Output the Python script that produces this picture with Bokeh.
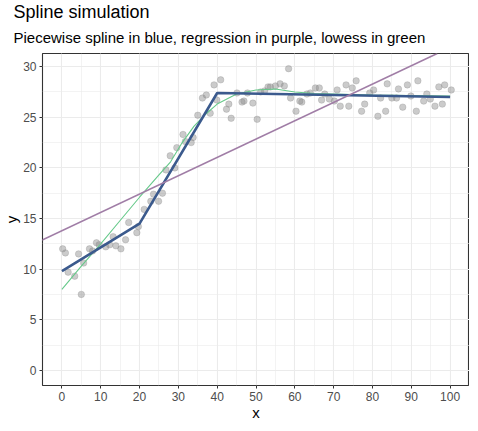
import numpy as np
from bokeh.plotting import figure
from bokeh.models import Range1d, Slope, Title, SingleIntervalTicker
from bokeh.embed import file_html
from bokeh.resources import INLINE

# ---- data ----
pts_x = [0.2, 0.9, 1.6, 3.3, 4.3, 5.0, 5.6, 7.1, 7.9, 8.9, 9.6, 11.3, 12.3, 13.2, 13.9,
         15.2, 16.4, 17.2, 19.3, 19.7, 21.2, 22.9, 23.6, 24.9, 25.9, 26.8, 27.9, 29.1,
         29.6, 31.2, 31.8, 33.3, 33.8, 35.0, 36.2, 37.2, 38.2, 39.2, 39.9, 40.9, 42.4,
         43.0, 43.6, 45.1, 46.4, 46.9, 47.8, 49.2, 50.3, 51.2, 52.2, 53.1, 53.7, 55.0,
         56.2, 57.3, 58.4, 58.9, 60.3, 61.3, 61.8, 63.1, 64.0, 65.3, 66.3, 66.9, 67.7,
         68.9, 70.2, 70.9, 71.7, 73.2, 73.9, 74.8, 75.8, 77.2, 78.0, 79.3, 80.3, 81.4,
         82.1, 83.4, 83.8, 85.0, 86.2, 86.7, 87.8, 89.0, 89.9, 91.3, 91.7, 93.2, 94.0,
         94.9, 96.1, 97.1, 98.0, 98.6, 100.3]
pts_y = [12.0, 11.6, 9.7, 9.3, 11.5, 7.5, 10.6, 12.0, 11.8, 12.6, 12.4, 12.2, 12.4, 13.2, 12.3,
         12.0, 12.9, 14.6, 13.6, 14.2, 15.9, 16.7, 17.4, 16.7, 17.5, 19.8, 21.2, 20.0,
         22.0, 23.3, 22.6, 22.5, 23.0, 25.2, 26.9, 27.2, 25.4, 28.2, 26.7, 28.7, 25.8,
         26.3, 24.9, 27.4, 26.5, 26.6, 27.4, 26.4, 24.8, 27.5, 27.6, 28.0, 28.0, 28.1,
         28.3, 28.1, 29.8, 26.9, 25.6, 26.6, 26.5, 27.3, 27.4, 27.9, 27.9, 26.7, 27.3,
         26.8, 26.6, 27.7, 26.1, 28.2, 26.1, 27.9, 28.6, 25.6, 26.3, 27.4, 27.7, 25.1,
         26.9, 25.6, 28.3, 26.9, 26.9, 27.8, 26.0, 28.2, 27.1, 25.6, 28.6, 26.6, 27.3,
         26.8, 26.1, 28.0, 26.3, 28.2, 27.7]

spline_x = [0, 20, 40, 100]
spline_y = [9.8, 14.5, 27.4, 27.0]

lowess_x = [0, 5, 10, 15, 20, 25, 28, 31, 34, 37, 40, 45, 50, 55, 60, 65, 70, 80, 90, 100]
lowess_y = [8.0, 10.3, 12.5, 14.8, 17.1, 19.3, 20.6, 22.5, 24.1, 25.3, 26.3, 27.3, 27.7,
            27.8, 27.5, 27.35, 27.3, 27.2, 27.15, 27.1]

reg_intercept = 13.8
reg_slope = 0.181

x_ticks_interval = 10
y_ticks_interval = 5

title_text = "Spline simulation"
subtitle_text = "Piecewise spline in blue, regression in purple, lowess in green"

FONT = "Liberation Sans"

p = figure(frame_width=427, frame_height=332, output_backend="svg", toolbar_location=None,
           title=None,
           x_range=Range1d(-5, 105), y_range=Range1d(-1.5, 31.3),
           min_border=0)

p.background_fill_color = "white"
p.border_fill_color = "white"
p.outline_line_color = "#333333"
p.outline_line_width = 1.1

# grids
for g in (p.xgrid, p.ygrid):
    g.grid_line_color = "#EBEBEB"
    g.grid_line_width = 1.1
    g.minor_grid_line_color = "#EBEBEB"
    g.minor_grid_line_width = 0.6

p.xaxis.ticker = SingleIntervalTicker(interval=x_ticks_interval, num_minor_ticks=2)
p.yaxis.ticker = SingleIntervalTicker(interval=y_ticks_interval, num_minor_ticks=2)
p.xgrid.ticker = p.xaxis.ticker
p.ygrid.ticker = p.yaxis.ticker

for ax in (p.xaxis, p.yaxis):
    ax.axis_line_color = None
    ax.major_tick_line_color = "#333333"
    ax.major_tick_out = 3
    ax.major_tick_in = 0
    ax.minor_tick_line_color = None
    ax.major_label_text_color = "#4D4D4D"
    ax.major_label_text_font = FONT
    ax.major_label_text_font_size = "12px"
    ax.axis_label_text_font = FONT
    ax.axis_label_text_font_size = "15px"
    ax.axis_label_text_font_style = "normal"
    ax.axis_label_text_color = "black"

p.xaxis.axis_label = "x"
p.yaxis.axis_label = "y"
p.xaxis.major_label_standoff = 2
p.yaxis.major_label_standoff = 2
p.xaxis.axis_label_standoff = 0
p.yaxis.axis_label_standoff = 0

# titles
p.add_layout(Title(text=subtitle_text,
                   text_font=FONT, text_font_size="15px", text_font_style="normal",
                   text_line_height=1.0, vertical_align="top", text_baseline="top",
                   text_color="black", align="left", offset=-29, standoff=12), "above")
p.add_layout(Title(text=title_text,
                   text_font=FONT, text_font_size="18px", text_font_style="normal",
                   text_line_height=0.68, vertical_align="middle", text_baseline="middle",
                   text_color="black", align="left", offset=-29, standoff=0), "above")

# glyphs
p.scatter(pts_x, pts_y, size=6.5, fill_color="#8C8C8C", fill_alpha=0.45,
          line_color="#8C8C8C", line_alpha=0.3)
p.line(lowess_x, lowess_y, line_color="#66C98A", line_width=1.1)
p.line(spline_x, spline_y, line_color="#3B5A8D", line_width=2.6)
p.add_layout(Slope(gradient=reg_slope, y_intercept=reg_intercept,
                   line_color="#A07DA6", line_width=1.6))

open("out.html", "w").write(file_html(p, INLINE))
